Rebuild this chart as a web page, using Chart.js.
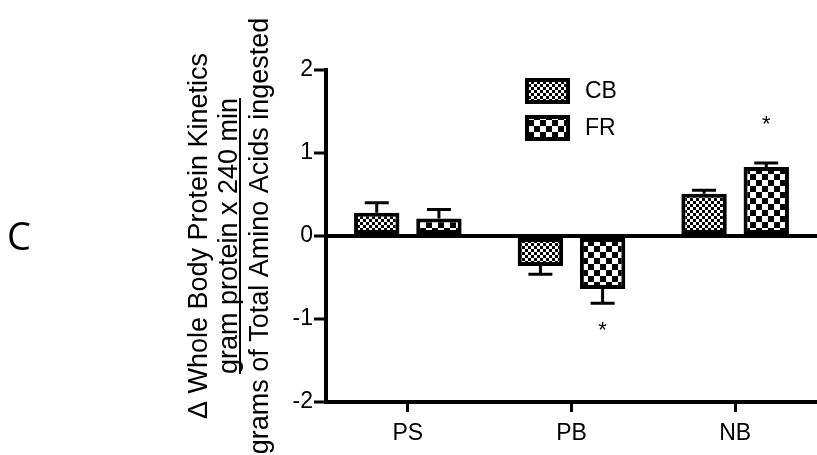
<!DOCTYPE html>
<html>
<head>
<meta charset="utf-8">
<script src="https://cdn.jsdelivr.net/npm/chart.js"></script>
<style>
  html, body { margin: 0; padding: 0; background: #fff; }
  canvas { display: block; }
</style>
</head>
<body>
<canvas id="grafico" width="817" height="455"></canvas>
<script>
// Dados
const categorias = ['PS', 'PB', 'NB'];
const valoresCB = [0.28, -0.36, 0.51];
const erroCB = [0.12, 0.10, 0.04];
const valoresFR = [0.21, -0.64, 0.83];
const erroFR = [0.11, 0.17, 0.05];
const signifCB = ['', '', ''];
const signifFR = ['', '*', '*'];
const nomesSeries = ['CB', 'FR'];
const tituloEixoY = ['\u0394 Whole Body Protein Kinetics', 'gram protein x 240 min', 'grams of Total Amino Acids ingested'];
const letraPainel = 'C';

const FONTE = '"Liberation Sans", Arial, sans-serif';

// -------------------------------------------------------------
// PADRÕES (xadrez)
// -------------------------------------------------------------

function criarPadrao(ctx, t) {
    const c = document.createElement('canvas');
    c.width = c.height = t * 2;
    const g = c.getContext('2d');
    g.fillStyle = '#fff';
    g.fillRect(0, 0, t * 2, t * 2);
    g.fillStyle = '#000';
    g.fillRect(0, 0, t, t);
    g.fillRect(t, t, t, t);
    return ctx.createPattern(c, 'repeat');
}

const canvas = document.getElementById('grafico');
const ctx = canvas.getContext('2d');
const padraoCB = criarPadrao(ctx, 3);
const padraoFR = criarPadrao(ctx, 6);
const padroes = [padraoCB, padraoFR];
const erros = [erroCB, erroFR];
const signifs = [signifCB, signifFR];

// -------------------------------------------------------------
// PLUGINS: barras de erro, asteriscos, legenda, título do eixo
// -------------------------------------------------------------

const pluginErros = {
    id: 'barrasErro',
    afterDatasetsDraw(chart) {
        const c = chart.ctx;
        const y = chart.scales.y;
        c.save();
        c.strokeStyle = '#000';
        c.fillStyle = '#000';
        c.lineWidth = 3;
        chart.data.datasets.forEach((ds, i) => {
            const meta = chart.getDatasetMeta(i);
            meta.data.forEach((barra, j) => {
                const v = ds.data[j];
                const sinal = v >= 0 ? 1 : -1;
                const y0 = y.getPixelForValue(v);
                const y1 = y.getPixelForValue(v + sinal * erros[i][j]);
                c.beginPath();
                c.moveTo(barra.x, y0);
                c.lineTo(barra.x, y1);
                c.moveTo(barra.x - 12, y1);
                c.lineTo(barra.x + 12, y1);
                c.stroke();

                const s = signifs[i][j];
                if (s) {
                    c.font = '22px ' + FONTE;
                    c.textAlign = 'center';
                    c.textBaseline = 'alphabetic';
                    const m = c.measureText(s);
                    const meio = (m.actualBoundingBoxAscent - m.actualBoundingBoxDescent) / 2;
                    const centro = sinal > 0 ? y1 - 43 : y1 + 23;
                    c.fillText(s, barra.x, centro + meio);
                }
            });
        });
        c.restore();
    }
};

const pluginLegenda = {
    id: 'legendaPadrao',
    afterDraw(chart) {
        const c = chart.ctx;
        c.save();
        nomesSeries.forEach((nome, i) => {
            const bx = 525, by = 78 + i * 37;
            c.fillStyle = '#000';
            c.fillRect(bx, by, 45, 26);
            c.fillStyle = padroes[i];
            c.fillRect(bx + 4, by + 4, 37, 18);
            c.fillStyle = '#000';
            c.font = '23px ' + FONTE;
            c.textAlign = 'left';
            c.textBaseline = 'middle';
            c.fillText(nome, 585, by + 14);
        });
        c.restore();
    }
};

const pluginTitulo = {
    id: 'tituloEixo',
    afterDraw(chart) {
        const c = chart.ctx;
        const area = chart.chartArea;
        const centroY = (area.top + area.bottom) / 2;
        const bases = [207, 237, 268];
        c.save();
        c.fillStyle = '#000';
        c.strokeStyle = '#000';
        c.font = '27px ' + FONTE;
        c.textAlign = 'center';
        c.textBaseline = 'alphabetic';
        tituloEixoY.forEach((linha, i) => {
            c.save();
            c.translate(bases[i], centroY);
            c.rotate(-Math.PI / 2);
            c.fillText(linha, 0, 0);
            if (i === 1) {
                const w = c.measureText(linha).width;
                c.lineWidth = 2;
                c.beginPath();
                c.moveTo(-w / 2, 3);
                c.lineTo(w / 2, 3);
                c.stroke();
            }
            c.restore();
        });
        // letra do painel
        c.font = '38px "Open Sans", sans-serif';
        c.textAlign = 'left';
        c.fillText(letraPainel, 7, 250);
        c.restore();
    }
};

// -------------------------------------------------------------
// GRÁFICO
// -------------------------------------------------------------

new Chart(ctx, {
    type: 'bar',
    data: {
        labels: categorias,
        datasets: [
            { label: nomesSeries[0], data: valoresCB, backgroundColor: padraoCB, borderColor: '#000', borderWidth: 4, borderSkipped: false },
            { label: nomesSeries[1], data: valoresFR, backgroundColor: padraoFR, borderColor: '#000', borderWidth: 4, borderSkipped: false }
        ]
    },
    options: {
        responsive: false,
        animation: false,
        devicePixelRatio: 1,
        categoryPercentage: 0.76,
        barPercentage: 0.73,
        layout: { padding: { top: 70, left: 0, right: 0, bottom: 0 } },
        plugins: { legend: { display: false }, tooltip: { enabled: false } },
        scales: {
            y: {
                min: -2, max: 2,
                afterFit(scale) { scale.width = 326; },
                ticks: { stepSize: 1, color: '#000', font: { size: 23, family: FONTE }, padding: 1 },
                border: { display: true, color: '#000', width: 4 },
                grid: {
                    drawOnChartArea: true,
                    color: c => (c.tick && c.tick.value === 0) ? '#000' : 'rgba(0,0,0,0)',
                    lineWidth: 4,
                    tickColor: '#000',
                    tickWidth: 3,
                    tickLength: 12
                }
            },
            x: {
                afterFit(scale) { scale.height = 53; },
                ticks: { color: '#000', font: { size: 23, family: FONTE }, padding: 8 },
                border: { display: true, color: '#000', width: 4 },
                grid: {
                    drawOnChartArea: false,
                    offset: false,
                    color: '#000',
                    tickColor: '#000',
                    tickWidth: 3,
                    tickLength: 10
                }
            }
        }
    },
    plugins: [pluginErros, pluginLegenda, pluginTitulo]
});
</script>
</body>
</html>
